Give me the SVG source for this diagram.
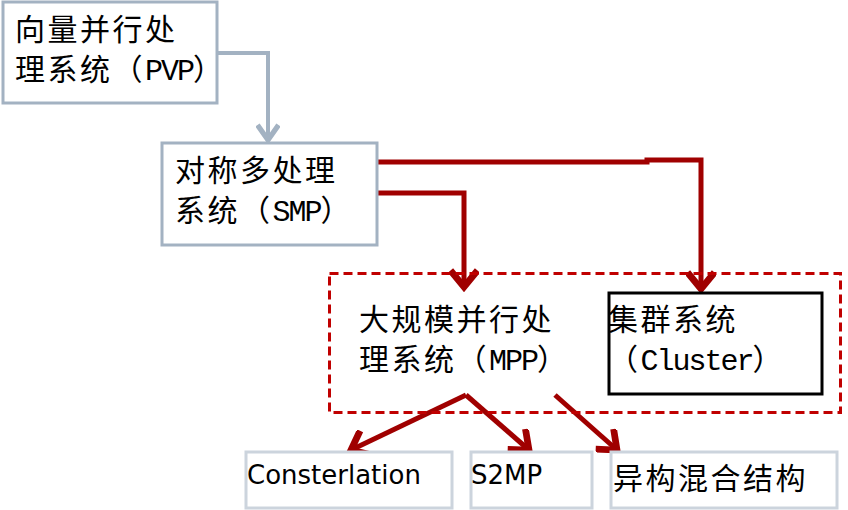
<svg xmlns="http://www.w3.org/2000/svg" width="848" height="510" viewBox="0 0 848 510">
<style>
.cjk{font-family:"Noto Sans CJK SC","Liberation Serif",serif;font-size:30px;letter-spacing:2.5px;fill:#000}
.lat{font-family:"Liberation Mono","Courier New",monospace;letter-spacing:-2px}
.sans{font-family:"DejaVu Sans","Noto Sans CJK SC",sans-serif;font-size:26px;fill:#000}
.bluebox{fill:#fff;stroke:#a3b2c2;stroke-width:3}
.greybox{fill:#fff;stroke:#ccd4dd;stroke-width:3}
.red{fill:none;stroke:#a00000;stroke-width:5}
</style>
<defs>
<marker id="ar" markerUnits="userSpaceOnUse" markerWidth="30" markerHeight="30" refX="14" refY="10" orient="auto" viewBox="0 0 20 20">
<path d="M3,1 L14,10 L3,19" fill="none" stroke="#a00000" stroke-width="4.5"/>
</marker>
<marker id="ag" markerUnits="userSpaceOnUse" markerWidth="24" markerHeight="24" refX="12" refY="8" orient="auto" viewBox="0 0 16 16">
<path d="M2,1 L12,8 L2,15" fill="none" stroke="#a3b2c2" stroke-width="3.5"/>
</marker>
</defs>
<rect width="848" height="510" fill="#fff"/>
<g id="connectors">
<polyline points="217,53 268,53 268,140" fill="none" stroke="#a3b2c2" stroke-width="4" marker-end="url(#ag)"/>
<polyline class="red" points="377,162 647,162 647,160 701,160 701,289" marker-end="url(#ar)"/>
<polyline class="red" points="377,193 464,193 464,287" marker-end="url(#ar)"/>
<line class="red" x1="466" y1="395" x2="351" y2="450" marker-end="url(#ar)"/>
<line class="red" x1="466" y1="395" x2="529" y2="450" marker-end="url(#ar)"/>
<line class="red" x1="555" y1="395" x2="617" y2="450" marker-end="url(#ar)"/>
</g>
<g id="pvp">
<rect class="bluebox" x="3" y="2" width="214" height="101"/>
<text class="cjk" x="15" y="40">向量并行处</text>
<text class="cjk" x="15" y="80">理系统（<tspan class="lat">PVP</tspan>）</text>
</g>
<g id="smp">
<rect class="bluebox" x="162" y="143" width="215" height="102"/>
<text class="cjk" x="175" y="181">对称多处理</text>
<text class="cjk" x="175" y="221">系统（<tspan class="lat">SMP</tspan>）</text>
</g>
<g id="group">
<rect x="329.5" y="273.5" width="511" height="139" fill="none" stroke="#c00000" stroke-width="3" stroke-dasharray="9,5"/>
</g>
<g id="mpp">
<text class="cjk" x="359" y="330">大规模并行处</text>
<text class="cjk" x="359" y="370">理系统（<tspan class="lat">MPP</tspan>）</text>
</g>
<g id="cluster">
<rect x="609" y="293" width="213" height="101" fill="#fff" stroke="#000" stroke-width="3"/>
<text class="cjk" x="608" y="330">集群系统</text>
<text class="cjk" x="608" y="370">（<tspan class="lat">Cluster</tspan>）</text>
</g>
<g id="constellation">
<rect class="greybox" x="246" y="452" width="206" height="56"/>
<text class="sans" x="247" y="484">Consterlation</text>
</g>
<g id="s2mp">
<rect class="greybox" x="471" y="452" width="121" height="56"/>
<text class="sans" x="471" y="484">S2MP</text>
</g>
<g id="hetero">
<rect class="greybox" x="611" y="452" width="226" height="56"/>
<text class="cjk" x="613" y="489">异构混合结构</text>
</g>
</svg>
